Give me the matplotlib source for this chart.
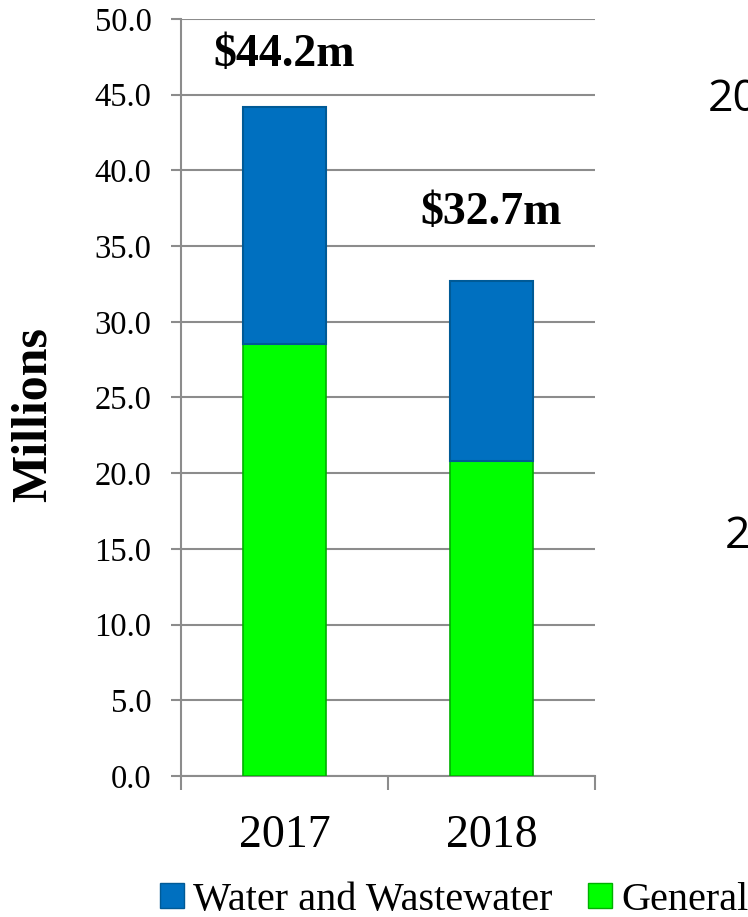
import matplotlib.pyplot as plt
from matplotlib.ticker import FormatStrFormatter, FixedLocator
from matplotlib.patches import Patch

# data
years = ["2017", "2018"]
general = [28.5, 20.8]
water = [15.7, 11.9]
totals = ["$44.2m", "$32.7m"]
total_label_y = [47.6, 37.2]

blue = "#0070C0"
green = "#00FF00"
grid_gray = "#8C8C8C"

plt.rcParams['font.family'] = ['Liberation Serif', 'DejaVu Serif']

fig = plt.figure(figsize=(7.48, 9.17), dpi=100)
ax = fig.add_axes([0.242, 0.1538, 0.5535, 0.8255])

x = range(len(years))
ax.bar(x, general, width=0.4, color=green, edgecolor="#00B000", linewidth=1.2, zorder=3)
ax.bar(x, water, width=0.4, bottom=general, color=blue, edgecolor="#005A96", linewidth=1.5, zorder=3)

for i, (lab, ly) in enumerate(zip(totals, total_label_y)):
    ax.text(i, ly, lab, ha='center', va='center', fontsize=33, fontweight='bold', color='black')

ax.set_xlim(-0.5, 1.5)
ax.set_ylim(0, 50)
ax.set_yticks([i * 5 for i in range(11)])
ax.yaxis.set_major_formatter(FormatStrFormatter('%.1f'))
ax.grid(axis='y', color=grid_gray, linewidth=1.5, zorder=0)
ax.set_axisbelow(True)

ax.set_xticks(list(x))
ax.set_xticklabels(years)
ax.xaxis.set_minor_locator(FixedLocator([-0.5, 0.5, 1.5]))
ax.tick_params(axis='x', which='major', length=0, pad=28, labelsize=33)
ax.tick_params(axis='x', which='minor', length=10, width=1.5, color=grid_gray, direction='out')
ax.tick_params(axis='y', length=7.2, width=1.5, color=grid_gray, pad=14, labelsize=23.5)

for s in ['top', 'right']:
    ax.spines[s].set_visible(False)
for s in ['left', 'bottom']:
    ax.spines[s].set_color(grid_gray)
    ax.spines[s].set_linewidth(1.5)

ax.set_ylabel("Millions", fontsize=36, fontweight='bold')
ax.yaxis.set_label_coords(-0.301, 0.477)

handles = [Patch(facecolor=blue, edgecolor="#005A96"), Patch(facecolor=green, edgecolor="#00B000")]
fig.legend(handles, ["Water and Wastewater", "General"], loc='center',
           bbox_to_anchor=(0.607, 0.0185), ncol=2, frameon=False, fontsize=29,
           handlelength=0.6, handleheight=0.6, handletextpad=0.22, columnspacing=0.9, borderpad=0)

# cut-off labels of the neighbouring chart at the right edge
fig.text(708 / 748, 1 - 100 / 917, "2017", fontsize=32, family=['Open Sans', 'DejaVu Sans'], va='center', ha='left')
fig.text(725 / 748, 1 - 537 / 917, "2018", fontsize=32, family=['Open Sans', 'DejaVu Sans'], va='center', ha='left')

fig.savefig("out.png", dpi=100)
